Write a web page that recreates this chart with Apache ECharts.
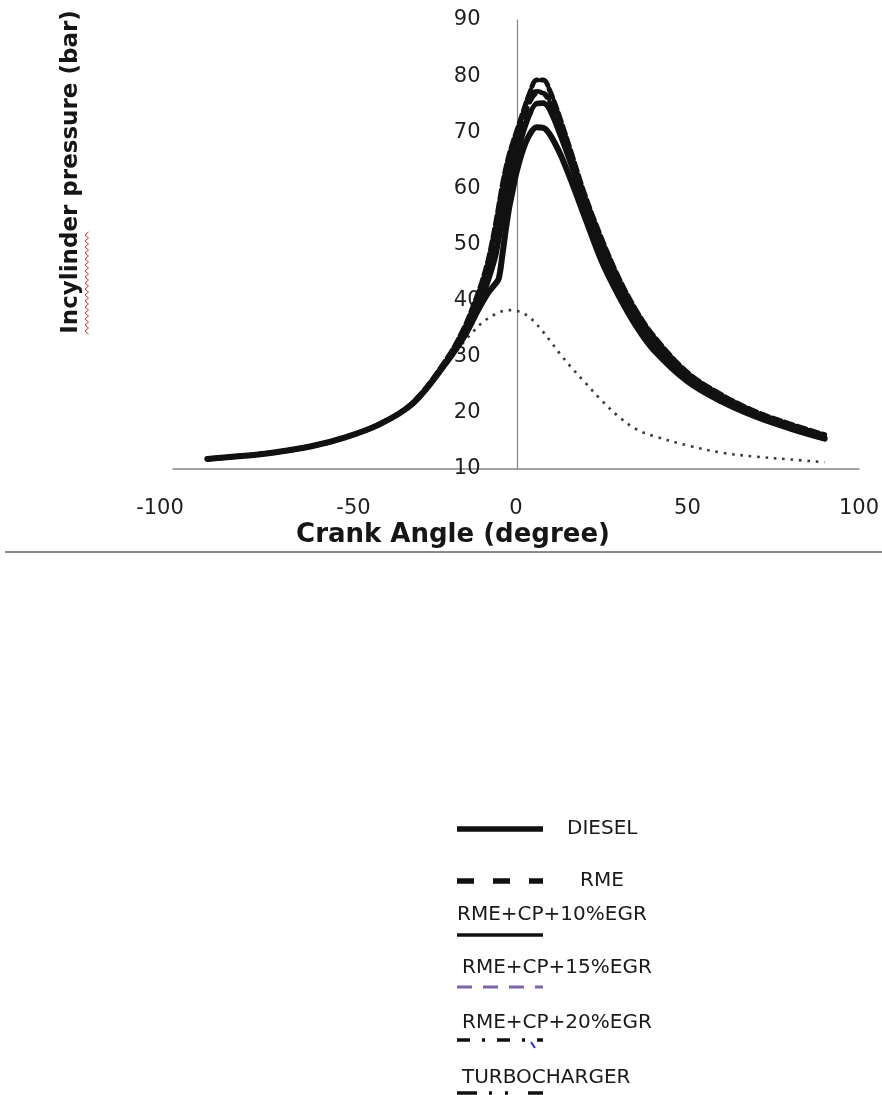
<!DOCTYPE html>
<html>
<head>
<meta charset="utf-8">
<script src="https://cdn.jsdelivr.net/npm/echarts@6/dist/echarts.min.js"></script>
<style>
  html, body { margin: 0; padding: 0; background: #ffffff; }
  #chart { width: 882px; height: 1095px; }
</style>
</head>
<body>
<div id="chart"></div>
<script>
// ---------- data ----------
const angles = [-90, -80, -70, -60, -50, -40, -30, -20, -15, -12, -10, -8, -6, -5, -4, -3, -2, -1, 0, 2, 4, 6, 8, 10, 13, 16, 20, 25, 30, 35, 40, 50, 60, 70, 80, 90];

const diesel   = [11.8, 12.3, 13.0, 14.0, 15.6, 17.9, 21.7, 29.2, 33.7, 37.2, 39.5, 41.5, 43.0, 44.0, 48.0, 52.5, 56.5, 59.5, 62.5, 66.8, 69.6, 70.9, 70.8, 69.5, 66.0, 61.5, 55.0, 47.0, 40.8, 35.5, 31.3, 25.6, 22.0, 19.3, 17.2, 15.4];
const rme      = [11.8, 12.3, 13.0, 14.0, 15.6, 17.9, 21.9, 29.8, 35.3, 39.8, 43.2, 47.5, 53.5, 57.0, 60.5, 63.5, 66.0, 68.0, 69.8, 73.5, 77.0, 79.3, 79.3, 77.2, 72.2, 66.6, 59.0, 51.0, 44.0, 38.3, 33.8, 27.2, 23.2, 20.2, 18.0, 16.1];
const egr10    = [11.8, 12.3, 13.0, 14.0, 15.6, 17.9, 21.8, 29.4, 34.3, 38.3, 41.0, 44.5, 49.0, 52.0, 55.5, 59.0, 62.0, 64.5, 66.5, 70.5, 73.5, 75.0, 75.1, 73.8, 69.5, 64.5, 57.3, 49.3, 42.6, 37.1, 32.8, 26.5, 22.6, 19.8, 17.6, 15.8];
const egr15    = [11.8, 12.3, 13.0, 14.0, 15.6, 17.9, 21.8, 29.5, 34.6, 38.8, 41.8, 45.5, 50.5, 53.5, 57.0, 60.5, 63.5, 66.0, 68.0, 72.0, 75.3, 76.9, 77.0, 75.5, 71.0, 65.8, 58.4, 50.3, 43.6, 38.0, 33.5, 27.0, 23.0, 20.0, 17.9, 16.0];
const egr20    = [11.8, 12.3, 13.0, 14.0, 15.6, 18.0, 21.9, 29.6, 35.0, 39.3, 42.5, 46.5, 52.0, 55.0, 58.5, 61.8, 64.8, 67.3, 69.2, 73.0, 76.2, 77.3, 76.9, 75.1, 70.6, 65.2, 57.9, 49.9, 43.3, 37.7, 33.2, 26.8, 22.8, 19.9, 17.8, 15.9];
const turbo    = [11.8, 12.3, 13.0, 14.0, 15.6, 17.9, 21.7, 29.3, 34.0, 37.8, 40.3, 43.5, 47.5, 50.5, 54.0, 57.5, 60.5, 63.0, 65.0, 69.5, 73.0, 75.2, 75.3, 73.6, 69.1, 64.1, 56.9, 48.9, 42.2, 36.8, 32.4, 26.2, 22.3, 19.6, 17.4, 15.6];
const motoring = [11.8, 12.3, 13.0, 14.0, 15.5, 17.8, 21.5, 28.8, 32.8, 34.8, 36.0, 36.9, 37.6, 37.9, 38.1, 38.2, 38.3, 38.3, 38.2, 37.8, 37.0, 35.8, 34.4, 32.8, 30.4, 28.2, 25.5, 22.2, 19.3, 17.1, 15.9, 14.2, 12.9, 12.2, 11.7, 11.2];

const seriesNames = ['DIESEL', 'RME', 'RME+CP+10%EGR', 'RME+CP+15%EGR', 'RME+CP+20%EGR', 'TURBOCHARGER'];
const xTicks = [-100, -50, 0, 50, 100];
const yTicks = [10, 20, 30, 40, 50, 60, 70, 80, 90];
const xTitle = 'Crank Angle (degree)';
const yTitle = 'Incylinder pressure (bar)';

// ---------- build ----------
const pairs = vals => angles.map((a, i) => [a, vals[i]]);
const FONT = '"DejaVu Sans", sans-serif';
const INK = '#111111';

function lineSeries(name, vals, width, type, z) {
  return {
    name: name, type: 'line', data: pairs(vals), smooth: 0.35, showSymbol: false, symbol: 'none',
    lineStyle: { color: INK, width: width, type: type, cap: 'round', join: 'round' },
    itemStyle: { color: INK }, z: z, silent: true
  };
}

const series = [
  {
    name: 'Motoring', type: 'line', data: pairs(motoring), smooth: 0.35, symbol: 'none',
    lineStyle: { color: '#3a3a3a', width: 2.6, type: [2.6, 5.8], cap: 'butt' }, z: 1, silent: true
  },
  lineSeries(seriesNames[3], egr15, 4.5, [10, 6], 2),
  lineSeries(seriesNames[4], egr20, 4.5, [12, 5, 3, 5], 3),
  lineSeries(seriesNames[5], turbo, 4.5, 'solid', 4),
  lineSeries(seriesNames[2], egr10, 4.5, 'solid', 5),
  lineSeries(seriesNames[0], diesel, 6, 'solid', 6),
  lineSeries(seriesNames[1], rme, 5, [9, 4], 7)
];

// legend (custom layout as in the reference)
const legendGraphics = [];
const lg = [
  { name: seriesNames[0], textX: 567, textY: 829, lineY: 829, w: 5.5, dash: null, color: INK },
  { name: seriesNames[1], textX: 580, textY: 881, lineY: 881, w: 5.5, dash: [17, 19], color: INK },
  { name: seriesNames[2], textX: 457, textY: 915, lineY: 935, w: 3.5, dash: null, color: INK },
  { name: seriesNames[3], textX: 462, textY: 968, lineY: 987, w: 3, dash: [15, 11], color: '#7e66a8' },
  { name: seriesNames[4], textX: 462, textY: 1023, lineY: 1040, w: 3.5, dash: [13, 12, 3, 12], color: INK },
  { name: seriesNames[5], textX: 462, textY: 1078, lineY: 1093, w: 3.5, dash: [20, 12, 3, 13, 3, 20], color: INK }
];
lg.forEach(it => {
  legendGraphics.push({
    type: 'line', shape: { x1: 457, y1: it.lineY, x2: 543, y2: it.lineY },
    style: { stroke: it.color, lineWidth: it.w, lineDash: it.dash || null }
  });
  legendGraphics.push({
    type: 'text', x: it.textX, y: it.textY,
    style: { text: it.name, font: '20px ' + FONT, fill: '#1a1a1a', textAlign: 'left', textVerticalAlign: 'middle' }
  });
});
// small blue stray mark in legend
legendGraphics.push({ type: 'line', shape: { x1: 531, y1: 1042, x2: 535, y2: 1048 }, style: { stroke: '#2233dd', lineWidth: 2 } });

// red spell-check squiggle under "Incylinder"
const squig = [];
for (let y = 232, k = 0; y <= 334; y += 3, k++) squig.push([k % 2 ? 85 : 88.5, y]);

const option = {
  backgroundColor: '#ffffff',
  animation: false,
  grid: { left: 173, right: 20, top: 20, bottom: 626, containLabel: false },
  xAxis: {
    type: 'value', min: -100, max: 100, interval: 50,
    axisLine: { show: true, onZero: false, lineStyle: { color: '#858585', width: 1.5 } },
    axisTick: { show: false },
    splitLine: { show: false },
    axisLabel: {
      margin: 29, color: '#1f1f1f', fontFamily: FONT, fontSize: 21,
      formatter: v => {
        if (xTicks.indexOf(v) < 0) return '';
        if (v === -100) return '{l|' + v + '}';
        if (v === -50) return '{r|' + v + '}';
        return '{n|' + v + '}';
      },
      rich: {
        n: { fontFamily: FONT, fontSize: 21, color: '#1f1f1f' },
        l: { fontFamily: FONT, fontSize: 21, color: '#1f1f1f', padding: [0, 26, 0, 0] },
        r: { fontFamily: FONT, fontSize: 21, color: '#1f1f1f', padding: [0, 0, 0, 18] }
      }
    }
  },
  yAxis: {
    type: 'value', min: 10, max: 90, interval: 10,
    position: 'left', offset: -344.5,
    axisLine: { show: true, onZero: false, lineStyle: { color: '#858585', width: 1.2 } },
    axisTick: { show: false },
    splitLine: { show: false },
    axisLabel: {
      margin: 37, color: '#1f1f1f', fontFamily: FONT, fontSize: 21,
      formatter: v => (yTicks.indexOf(v) >= 0 ? String(v) : '')
    }
  },
  series: series,
  graphic: [
    { type: 'text', x: 453, y: 535, style: { text: xTitle, font: 'bold 26px ' + FONT, fill: '#161616', textAlign: 'center', textVerticalAlign: 'middle' } },
    { type: 'text', x: 71, y: 172, rotation: Math.PI / 2, style: { text: yTitle, font: 'bold 23px ' + FONT, fill: '#161616', textAlign: 'center', textVerticalAlign: 'middle' } },
    { type: 'polyline', shape: { points: squig }, style: { stroke: '#d03030', lineWidth: 1, fill: null } },
    { type: 'line', shape: { x1: 5, y1: 552, x2: 882, y2: 552 }, style: { stroke: '#8a8a8a', lineWidth: 2 } }
  ].concat(legendGraphics)
};

const chart = echarts.init(document.getElementById('chart'), null, { renderer: 'canvas' });
chart.setOption(option);
</script>
</body>
</html>
